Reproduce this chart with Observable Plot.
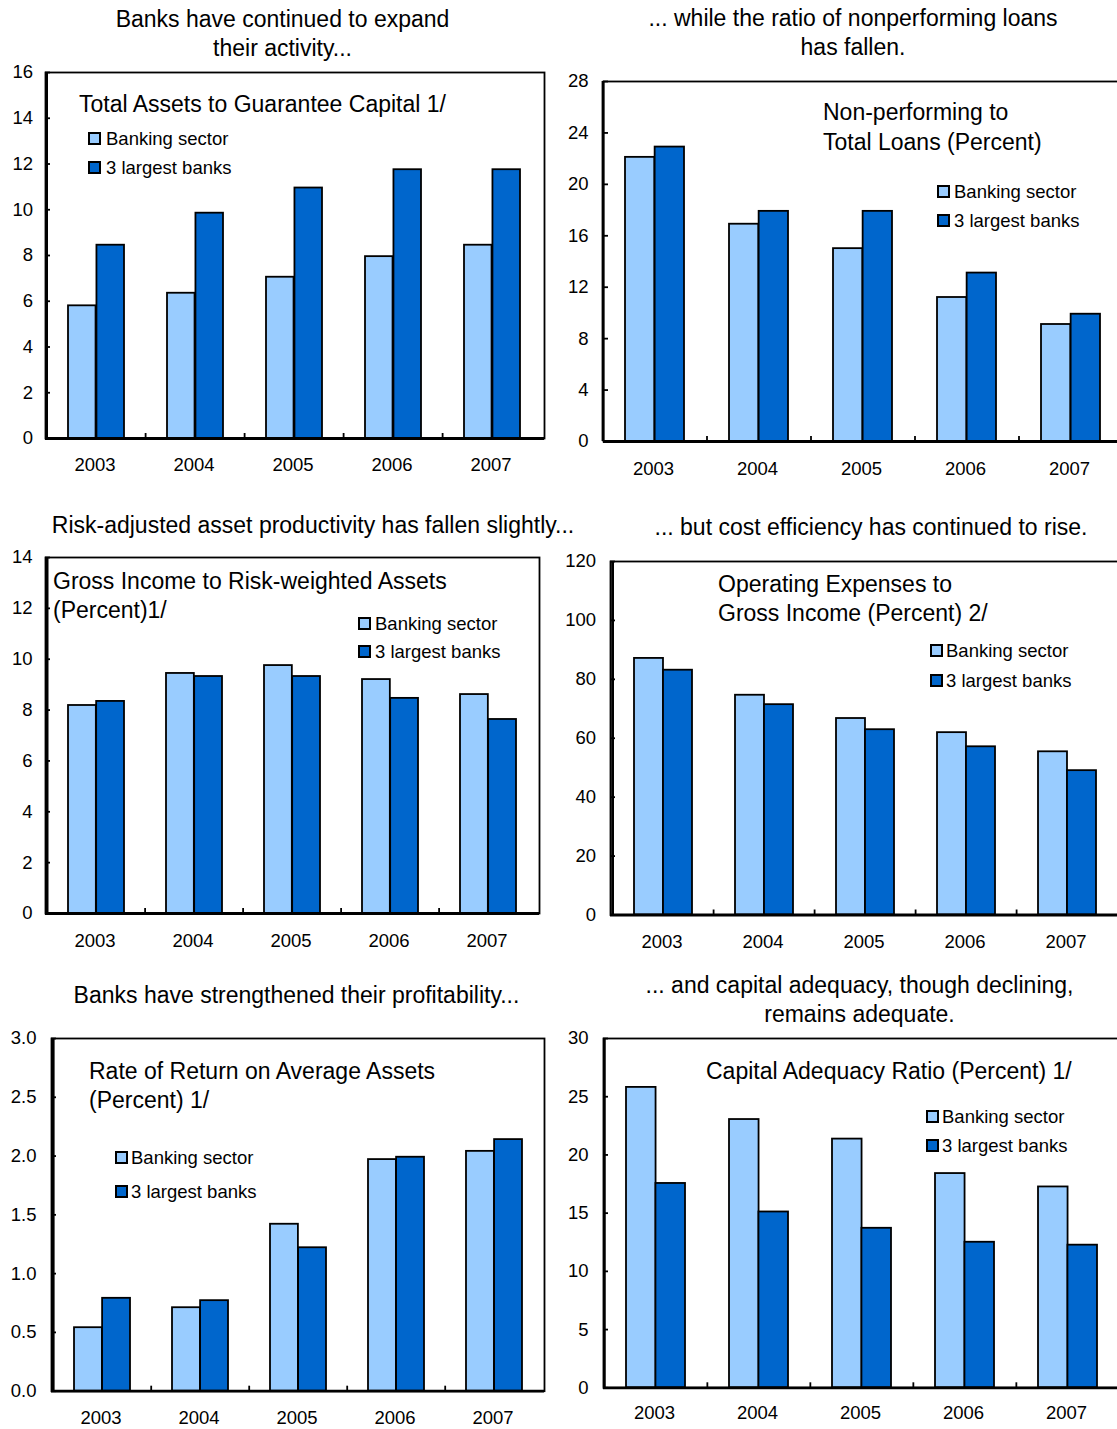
<!DOCTYPE html>
<html><head><meta charset="utf-8">
<script src="https://cdn.jsdelivr.net/npm/d3@7"></script>
<script src="https://cdn.jsdelivr.net/npm/@observablehq/plot@0.6"></script>
<style>
body{margin:0;background:#fff;}
#root{position:relative;width:1117px;height:1429px;overflow:hidden;font-family:"Liberation Sans",Arial,sans-serif;color:#000;background:#fff;}
.abs{position:absolute;white-space:nowrap;}
.otitle{font-size:23px;line-height:29px;text-align:center;transform:translateX(-50%);}
.ititle{font-size:23px;line-height:29px;}
.leg{font-size:18.5px;line-height:29px;}
.sw{position:absolute;width:13px;height:13px;box-sizing:border-box;border:2px solid #000;}
</style></head>
<body><div id="root"></div>
<script>
const years = ["2003","2004","2005","2006","2007"];
const seriesNames = ["Banking sector","3 largest banks"];

const assetsBanking = [5.8, 6.35, 7.05, 7.95, 8.45];
const assetsLargest = [8.45, 9.85, 10.95, 11.75, 11.75];
const assetsTicks = [0,2,4,6,8,10,12,14,16];

const nplBanking = [22.1, 16.9, 15.0, 11.2, 9.1];
const nplLargest = [22.9, 17.9, 17.9, 13.1, 9.9];
const nplTicks = [0,4,8,12,16,20,24,28];

const incomeBanking = [8.18, 9.44, 9.75, 9.2, 8.61];
const incomeLargest = [8.34, 9.32, 9.32, 8.46, 7.63];
const incomeTicks = [0,2,4,6,8,10,12,14];

const costBanking = [87.1, 74.6, 66.7, 61.9, 55.4];
const costLargest = [83.1, 71.4, 62.9, 57.1, 49.0];
const costTicks = [0,20,40,60,80,100,120];

const roaBanking = [0.54, 0.71, 1.42, 1.97, 2.04];
const roaLargest = [0.79, 0.77, 1.22, 1.99, 2.14];
const roaTicks = [0,0.5,1.0,1.5,2.0,2.5,3.0];

const carBanking = [25.8, 23.04, 21.36, 18.4, 17.25];
const carLargest = [17.55, 15.1, 13.7, 12.5, 12.25];
const carTicks = [0,5,10,15,20,25,30];

const LIGHT = "#99CCFF", DARK = "#0066CC";
const FONT = '"Liberation Sans", Arial, sans-serif';

const panels = [
  {L:44.5, R:543.5, T:72, B:438, domain:[0,16], ticks:assetsTicks, fmt:d=>String(d), banking:assetsBanking, largest:assetsLargest, gap:12.5, yOff:26,
   outer:{x:282.5, y:[19,48], lines:["Banks have continued to expand","their activity..."]},
   inner:{x:79, y:[104], lines:["Total Assets to Guarantee Capital 1/"]},
   legend:{sw:88, tx:106, y:[138,167]}},
  {L:602.5, R:1122.5, T:81, B:441, domain:[0,28], ticks:nplTicks, fmt:d=>String(d), banking:nplBanking, largest:nplLargest, gap:15, yOff:27,
   outer:{x:853, y:[18,47], lines:["... while the ratio of nonperforming loans","has fallen."]},
   inner:{x:823, y:[112,142], lines:["Non-performing to","Total Loans (Percent)"]},
   legend:{sw:937, tx:954, y:[191,220]}},
  {L:44.5, R:538.5, T:557, B:913, domain:[0,14], ticks:incomeTicks, fmt:d=>String(d), banking:incomeBanking, largest:incomeLargest, gap:13, yOff:27,
   outer:{x:313, y:[525], lines:["Risk-adjusted asset productivity has fallen slightly..."]},
   inner:{x:53, y:[581,610], lines:["Gross Income to Risk-weighted Assets","(Percent)1/"]},
   legend:{sw:358, tx:375, y:[623,651]}},
  {L:609.5, R:1118.5, T:560.5, B:914, domain:[0,120], ticks:costTicks, fmt:d=>String(d), banking:costBanking, largest:costLargest, gap:14.5, yOff:26,
   outer:{x:871, y:[527], lines:["... but cost efficiency has continued to rise."]},
   inner:{x:718, y:[584,613], lines:["Operating Expenses to","Gross Income (Percent) 2/"]},
   legend:{sw:930, tx:946, y:[650,680]}},
  {L:50.5, R:543.5, T:1038.3, B:1391, domain:[0,3], ticks:roaTicks, fmt:d3.format(".1f"), banking:roaBanking, largest:roaLargest, gap:15, yOff:26,
   outer:{x:296.5, y:[995], lines:["Banks have strengthened their profitability..."]},
   inner:{x:89, y:[1071,1100], lines:["Rate of Return on Average Assets","(Percent) 1/"]},
   legend:{sw:115, tx:131, y:[1157,1191]}},
  {L:602.5, R:1119, T:1037.7, B:1387, domain:[0,30], ticks:carTicks, fmt:d=>String(d), banking:carBanking, largest:carLargest, gap:15, yOff:25,
   outer:{x:859.5, y:[985,1014], lines:["... and capital adequacy, though declining,","remains adequate."]},
   inner:{x:706, y:[1071], lines:["Capital Adequacy Ratio (Percent) 1/"]},
   legend:{sw:926, tx:942, y:[1116,1145]}}
];

const root = document.getElementById("root");

function addDiv(cls, text, left, top){
  const d = document.createElement("div");
  d.className = "abs " + cls;
  d.textContent = text;
  d.style.left = left + "px";
  d.style.top = top + "px";
  root.appendChild(d);
  return d;
}

for (const p of panels) {
  const mL = 50, mR = 6, mT = 12, mB = 45;
  const W = p.R - p.L, H = p.B - p.T;
  const step = W / years.length;
  const bw = step * 0.57;
  const data = years.map((y, i) => ({year: y, banking: p.banking[i], largest: p.largest[i]}));
  const tickLen = p.domain[1] * 5 / H;
  const svg = Plot.plot({
    width: W + mL + mR, height: H + mT + mB,
    marginLeft: mL, marginRight: mR, marginTop: mT, marginBottom: mB,
    style: {fontFamily: FONT, fontSize: "18.5px", color: "#000", background: "transparent", overflow: "visible"},
    x: {type: "band", domain: years, paddingInner: 0.43, paddingOuter: 0.215, align: 0.5},
    y: {domain: p.domain},
    marks: [
      Plot.barY(data, {x: "year", y: "banking", fill: LIGHT, stroke: "#000", strokeWidth: 1.8, insetRight: bw / 2}),
      Plot.barY(data, {x: "year", y: "largest", fill: DARK, stroke: "#000", strokeWidth: 1.8, insetLeft: bw / 2}),
      Plot.frame({stroke: "#000", strokeWidth: 1.8}),
      Plot.ruleY([0], {stroke: "#000", strokeWidth: 2.8}),
      Plot.ruleX([years[0]], {dx: -step / 2, stroke: "#000", strokeWidth: 2.8}),
      Plot.ruleX(years.slice(1), {dx: -step / 2, y1: 0, y2: tickLen, stroke: "#000", strokeWidth: 1.8}),
      Plot.axisY({ticks: p.ticks, tickSize: -5, tickPadding: p.gap + 5, tickFormat: p.fmt, label: null, strokeWidth: 1.8, fontSize: 18.5}),
      Plot.axisX({tickSize: 0, tickPadding: p.yOff - 6.6, dx: -1.5, label: null, fontSize: 18.5})
    ]
  });
  svg.style.position = "absolute";
  svg.style.left = (p.L - mL) + "px";
  svg.style.top = (p.T - mT) + "px";
  svg.style.maxWidth = "none";
  root.appendChild(svg);

  p.outer.lines.forEach((t, i) => addDiv("otitle", t, p.outer.x, p.outer.y[i] - 14.5));
  p.inner.lines.forEach((t, i) => addDiv("ititle", t, p.inner.x, p.inner.y[i] - 14.5));
  seriesNames.forEach((name, i) => {
    const s = document.createElement("div");
    s.className = "sw";
    s.style.left = p.legend.sw + "px";
    s.style.top = (p.legend.y[i] - 6.5) + "px";
    s.style.background = i === 0 ? LIGHT : DARK;
    root.appendChild(s);
    addDiv("leg", name, p.legend.tx, p.legend.y[i] - 14.5);
  });
}
</script>
</body></html>
